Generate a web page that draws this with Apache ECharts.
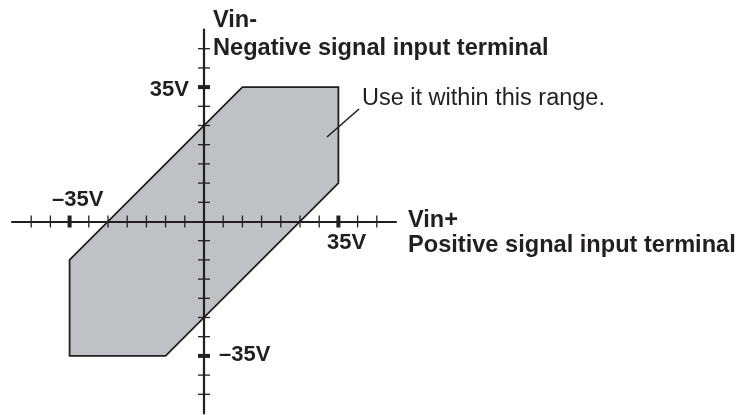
<!DOCTYPE html>
<html>
<head>
<meta charset="utf-8">
<script src="https://cdn.jsdelivr.net/npm/echarts@6/dist/echarts.min.js"></script>
<style>
  html, body { margin: 0; padding: 0; background: #fff; }
  #chart { width: 743px; height: 415px; }
</style>
</head>
<body>
<div id="chart"></div>
<script>
// 可用范围（多边形顶点，单位 V）
const rangeX = [-35, -10, 35, 35, 10, -35]
const rangeY = [-35, -35, 10, 35, 35, -10]
// 坐标轴刻度
const tickValues = [-45, -40, -35, -30, -25, -20, -15, -10, -5, 5, 10, 15, 20, 25, 30, 35, 40, 45]
const majorTicks = [-35, 35]
// 文字
const tickLabels = ['35V', '–35V']
const axisNames = ['Vin+', 'Positive signal input terminal', 'Vin-', 'Negative signal input terminal']
const note = 'Use it within this range.'

const ink = '#231f20'
const boldFont = 'bold 23.6px Arial, sans-serif'
const labelFont = 'bold 22px Arial, sans-serif'
const chart = echarts.init(document.getElementById('chart'))

// 刻度线：横跨坐标轴两侧
function tickItem(dim) {
  return function (params, api) {
    const v = api.value(0)
    const p = dim === 'x' ? api.coord([v, 0]) : api.coord([0, v])
    const major = majorTicks.indexOf(v) >= 0
    const h = 6
    const shape = dim === 'x'
      ? { x1: p[0], y1: p[1] - h, x2: p[0], y2: p[1] + h }
      : { x1: p[0] - h, y1: p[1], x2: p[0] + h, y2: p[1] }
    return {
      type: 'line',
      shape: shape,
      style: { stroke: ink, lineWidth: major ? 4 : 1.3 }
    }
  }
}

const option = {
  animation: false,
  grid: { left: 12, top: 29.5, width: 384, height: 384 },
  xAxis: {
    type: 'value', min: -50, max: 50, z: 5,
    axisLine: { onZero: true, lineStyle: { color: ink, width: 2.2 } },
    axisTick: { show: false }, axisLabel: { show: false }, splitLine: { show: false }
  },
  yAxis: {
    type: 'value', min: -50, max: 50, z: 5,
    axisLine: { onZero: true, lineStyle: { color: ink, width: 2.2 } },
    axisTick: { show: false }, axisLabel: { show: false }, splitLine: { show: false }
  },
  series: [
    {
      type: 'custom',
      z: 1,
      data: rangeX.map((x, i) => [x, rangeY[i]]),
      renderItem: function (params, api) {
        if (params.dataIndex !== 0) return null
        const pts = rangeX.map((x, i) => api.coord([x, rangeY[i]]))
        return {
          type: 'polygon',
          shape: { points: pts },
          style: { fill: '#c0c1c4', stroke: ink, lineWidth: 1.8 }
        }
      }
    },
    {
      type: 'custom', z: 6,
      data: tickValues.map(v => [v]),
      renderItem: tickItem('x')
    },
    {
      type: 'custom', z: 6,
      data: tickValues.map(v => [v]),
      renderItem: tickItem('y')
    }
  ],
  graphic: [
    { type: 'text', z: 10, style: { text: axisNames[2], x: 213, y: 20, font: boldFont, fill: ink, textVerticalAlign: 'middle' } },
    { type: 'text', z: 10, style: { text: axisNames[3], x: 213, y: 48.5, font: boldFont, fill: ink, textVerticalAlign: 'middle' } },
    { type: 'text', z: 10, style: { text: axisNames[0], x: 408, y: 220.5, font: boldFont, fill: ink, textVerticalAlign: 'middle' } },
    { type: 'text', z: 10, style: { text: axisNames[1], x: 408, y: 245.5, font: boldFont, fill: ink, textVerticalAlign: 'middle' } },
    { type: 'text', z: 10, style: { text: tickLabels[0], x: 189, y: 89.5, font: labelFont, fill: ink, textAlign: 'right', textVerticalAlign: 'middle' } },
    { type: 'text', z: 10, style: { text: tickLabels[1], x: 52, y: 200, font: labelFont, fill: ink, textVerticalAlign: 'middle' } },
    { type: 'text', z: 10, style: { text: tickLabels[0], x: 327, y: 243, font: labelFont, fill: ink, textVerticalAlign: 'middle' } },
    { type: 'text', z: 10, style: { text: tickLabels[1], x: 219, y: 354.5, font: labelFont, fill: ink, textVerticalAlign: 'middle' } },
    { type: 'text', z: 10, style: { text: note, x: 362, y: 98.5, font: '23.5px Arial, sans-serif', fill: ink, textVerticalAlign: 'middle' } },
    // 指引线
    { type: 'line', z: 10, shape: { x1: 327, y1: 137, x2: 359, y2: 109 }, style: { stroke: ink, lineWidth: 1.6 } }
  ]
}

chart.setOption(option)
</script>
</body>
</html>
